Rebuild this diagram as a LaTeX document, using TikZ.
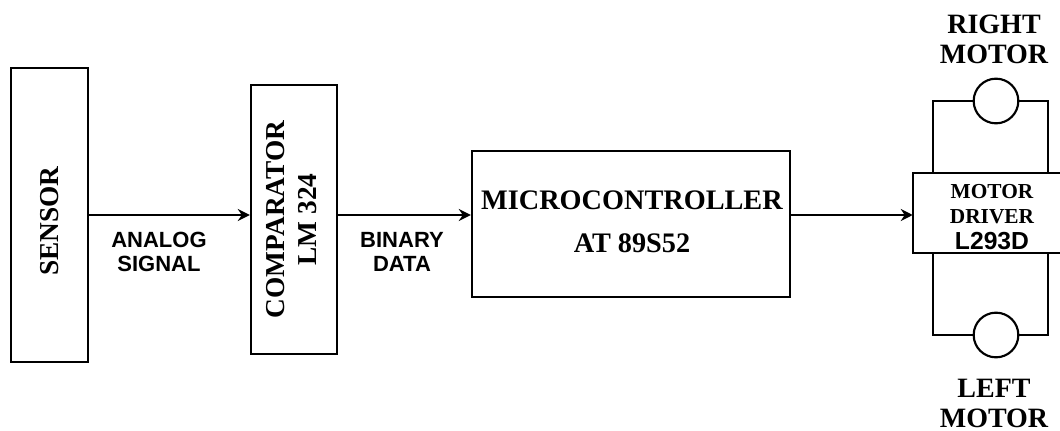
\documentclass[tikz,border=0pt]{standalone}
\usepackage{fontspec}
\setmainfont{Liberation Serif}
\newfontfamily\sansbold{Liberation Sans}[BoldFont={* Bold}]
\usetikzlibrary{arrows.meta}
\begin{document}
\begin{tikzpicture}[x=0.75pt,y=-0.75pt,
  block/.style={draw,line width=1.8pt,rectangle,inner sep=0pt,align=center},
  serifbig/.style={font=\bfseries\fontsize{20.5}{23}\selectfont},
  siglabel/.style={align=center,font=\sansbold\bfseries\fontsize{16.5}{17.5}\selectfont},
  wire/.style={line width=1.6pt},
  flow/.style={line width=1.5pt,-{Stealth[length=9pt,width=9pt,inset=3pt]}},
  motor/.style={circle,draw,line width=1.6pt,minimum size=33.5pt,inner sep=0pt}]
\useasboundingbox (0,0) rectangle (1060,431);

% processing chain
\node[block,minimum width=57.75pt,minimum height=220.5pt] (sensor) at (49.5,215) {};
\node[serifbig,rotate=90] (sensortext) at (50,221) {SENSOR};
\node[block,serifbig,minimum width=64.5pt,minimum height=201.75pt] (comp) at (294,219.5)
  {\rotatebox{90}{\begin{tabular}{@{}c@{}}COMPARATOR\\[1pt]LM 324\end{tabular}}};
\node[block,minimum width=238.5pt,minimum height=109.5pt] (micro) at (631,224) {};
\node[align=center,font=\bfseries\fontsize{21.2}{32}\selectfont] (microtext) at (632,222)
  {MICROCONTROLLER\\AT 89S52};

% motor driver (box runs past the right border)
\node[minimum width=111.75pt,minimum height=60pt,inner sep=0pt] (driver) at (987.5,213) {};
\draw[line width=1.8pt] (driver.north east) -- (driver.north west) -- (driver.south west) -- (driver.south east);
\node[align=center,font=\bfseries\fontsize{16}{19}\selectfont] (drivertext) at (992,217)
  {MOTOR\\DRIVER\\{\sansbold\bfseries\fontsize{18.5}{19}\selectfont L293D}};

% motors
\node[motor] (rmotor) at (996,101) {};
\node[motor] (lmotor) at (996,335) {};
\coordinate (tl) at (933,173);
\coordinate (tr) at (1048,173);
\coordinate (bl) at (933,253);
\coordinate (br) at (1048,253);
\draw[wire] (tl) |- (rmotor.west);
\draw[wire] (rmotor.east) -| (tr);
\draw[wire] (bl) |- (lmotor.west);
\draw[wire] (lmotor.east) -| (br);
\node[align=center,font=\bfseries\fontsize{21}{22.5}\selectfont] (rlabel) at (994,39) {RIGHT\\MOTOR};
\node[align=center,font=\bfseries\fontsize{21}{22.5}\selectfont] (llabel) at (994,403) {LEFT\\MOTOR};

% signal flow
\coordinate (lvl) at (0,215);
\draw[flow] (sensor.east) -- (sensor.east -| comp.west);
\draw[flow] (lvl -| comp.east) -- (lvl -| micro.west);
\draw[flow] (lvl -| micro.east) -- (lvl -| driver.west);
\node[siglabel] (analog) at (159,252) {ANALOG\\SIGNAL};
\node[siglabel] (binary) at (402,252) {BINARY\\DATA};
\end{tikzpicture}
\end{document}
